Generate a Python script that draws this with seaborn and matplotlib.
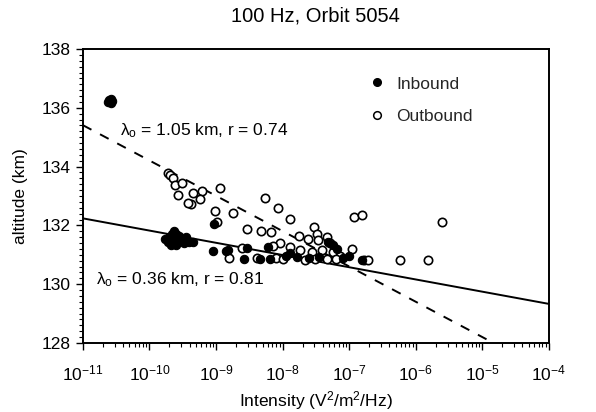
import numpy as np
import pandas as pd
import matplotlib
matplotlib.use("Agg")
import matplotlib.pyplot as plt
import seaborn as sns
from matplotlib.lines import Line2D
from matplotlib.ticker import MultipleLocator, LogLocator, FixedLocator

# ---- data (log10 intensity, altitude km) ----
inbound_log = [-10.60, -10.58, -10.56, -10.62, -10.57,
               -9.76, -9.72, -9.70, -9.66, -9.63, -9.60, -9.62, -9.58, -9.55, -9.52,
               -9.48, -9.45, -9.40, -9.35, -9.68, -9.60,
               -9.03, -9.05, -8.85, -8.82, -8.58, -8.54, -8.34, -8.19, -8.22, -7.89,
               -7.79, -7.95, -7.60, -7.45, -7.25, -7.19, -7.32, -7.10, -6.81, -7.00]
inbound_alt = [136.25, 136.30, 136.22, 136.20, 136.15,
               131.55, 131.45, 131.60, 131.72, 131.80, 131.70, 131.55, 131.45, 131.65, 131.55,
               131.40, 131.60, 131.45, 131.45, 131.35, 131.35,
               132.05, 131.13, 131.13, 131.18, 130.86, 131.23, 130.86, 130.86, 131.27, 131.06,
               130.93, 130.95, 130.90, 130.92, 131.33, 131.20, 131.45, 130.90, 130.82, 130.95]

outbound_log = [-9.72, -9.69, -9.65, -9.62, -9.51, -9.57, -9.35, -9.21, -8.94, -9.24,
                -9.38, -9.42, -9.02, -8.75, -8.98, -8.27, -8.07, -7.89, -8.54, -8.33,
                -8.18, -7.76, -7.62, -7.53, -7.49, -7.47, -7.34, -7.29, -8.04, -8.15,
                -7.89, -7.74, -7.56, -7.41, -7.25, -7.14, -8.61, -8.39, -8.10, -7.67,
                -7.52, -7.33, -7.20, -6.95, -6.92, -6.80, -6.77, -6.71, -6.23, -5.82,
                -5.61, -8.80, -8.00]
outbound_alt = [133.78, 133.71, 133.61, 133.37, 133.44, 133.03, 133.10, 133.17, 133.27, 132.90,
                132.73, 132.76, 132.49, 132.42, 132.10, 132.93, 132.59, 132.22, 131.88, 131.81,
                131.78, 131.64, 131.54, 131.95, 131.71, 131.50, 131.61, 131.40, 131.40, 131.30,
                131.27, 131.16, 131.10, 131.16, 131.10, 130.96, 131.23, 130.89, 130.89, 130.82,
                130.86, 130.86, 130.86, 131.20, 132.29, 132.35, 130.82, 130.82, 130.82, 130.82,
                132.12, 130.88, 130.85]

fit_intensity = [1e-11, 1e-4]
inbound_fit = [132.24, 129.33]
outbound_fit = [135.41, 127.00]

x_ticks = [1e-11, 1e-10, 1e-9, 1e-8, 1e-7, 1e-6, 1e-5, 1e-4]

title = "100 Hz, Orbit 5054"
xlabel = "Intensity (V$^2$/m$^2$/Hz)"
ylabel = "altitude (km)"
inbound_label = "λ$_\\mathrm{o}$ = 0.36 km, r = 0.81"
outbound_label = "λ$_\\mathrm{o}$ = 1.05 km, r = 0.74"

sns.set_theme(style="ticks")
plt.rcParams['font.family'] = ['Liberation Sans', 'DejaVu Sans']
plt.rcParams['mathtext.fontset'] = 'custom'
plt.rcParams['mathtext.rm'] = 'Liberation Sans'
plt.rcParams['mathtext.it'] = 'Liberation Sans'
plt.rcParams['mathtext.default'] = 'regular'

df_in = pd.DataFrame({"intensity": 10.0 ** np.array(inbound_log), "alt": inbound_alt})
df_out = pd.DataFrame({"intensity": 10.0 ** np.array(outbound_log), "alt": outbound_alt})

fig = plt.figure(figsize=(5.96, 4.12), dpi=100)
ax = fig.add_axes([0.139, 0.1675, 0.782, 0.7135])

sns.scatterplot(data=df_out, x="intensity", y="alt", ax=ax, marker="o", s=36,
                facecolor="white", edgecolor="black", linewidth=1.2, zorder=3)
sns.scatterplot(data=df_in, x="intensity", y="alt", ax=ax, marker="o", s=36,
                color="black", edgecolor="black", linewidth=0.8, zorder=4)

ax.plot(fit_intensity, inbound_fit, color="black", lw=1.4, zorder=2)
ax.plot(fit_intensity, outbound_fit, color="black", lw=1.4, ls=(0, (5, 5)), zorder=2)

ax.set_xscale("log")
ax.set_xlim(1e-11, 1e-4)
ax.set_ylim(128, 138)
ax.yaxis.set_major_locator(MultipleLocator(2))
ax.yaxis.set_minor_locator(MultipleLocator(0.2))
ax.xaxis.set_major_locator(FixedLocator(x_ticks))
ax.xaxis.set_minor_locator(LogLocator(base=10, subs=np.arange(2, 10), numticks=100))
ax.tick_params(axis="both", which="major", direction="out", length=5, width=1, labelsize=12.5, color="black", labelcolor="black")
ax.tick_params(axis="both", which="minor", direction="out", length=3, width=0.8, color="black")
ax.tick_params(axis="x", which="major", pad=10)

for sp in ax.spines.values():
    sp.set_color("black")
    sp.set_linewidth(1.4)

ax.set_xlabel(xlabel, fontsize=12.5, color="black", labelpad=4)
ax.set_ylabel(ylabel, fontsize=12.5, color="black", labelpad=10)
ax.set_title(title, fontsize=14.5, color="black", pad=20)

ax.text(0.08, 0.705, outbound_label, transform=ax.transAxes, fontsize=12.5, color="black")
ax.text(0.028, 0.20, inbound_label, transform=ax.transAxes, fontsize=12.5, color="black")

handles = [Line2D([], [], marker="o", ls="none", color="black", markersize=5.5, label="Inbound"),
           Line2D([], [], marker="o", ls="none", markerfacecolor="white", markeredgecolor="black",
                  markeredgewidth=1.1, markersize=5.5, label="Outbound")]
ax.legend(handles=handles, loc="upper left", bbox_to_anchor=(0.575, 0.96), frameon=False,
          fontsize=12.5, handletextpad=0.5, labelspacing=1.0, handlelength=1.2)

fig.savefig("out.png", dpi=100)
